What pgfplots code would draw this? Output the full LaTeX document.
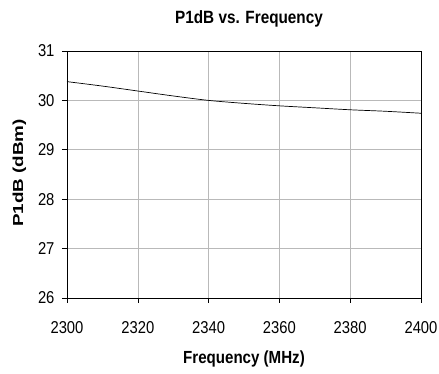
\documentclass[border=0pt]{standalone}
\usepackage{fontspec}
\setmainfont{Liberation Sans}
\usepackage{pgfplots}
\pgfplotsset{compat=1.18}
\newcommand{\tall}[1]{\scalebox{1}[1.16]{#1}}
\begin{document}
\begin{tikzpicture}
\begin{axis}[
  scale only axis,
  width=354pt, height=247pt,
  xmin=2300, xmax=2400, ymin=26, ymax=31,
  xtick={2300,2320,...,2400},
  ytick={26,27,...,31},
  grid=major,
  major grid style={gray!55, line width=0.6pt},
  axis line style={black, line width=0.8pt},
  tick align=outside,
  tick style={black, line width=0.6pt},
  major tick length=5pt,
  xtick pos=bottom, ytick pos=left,
  /pgf/number format/assume math mode=true,
  /pgf/number format/1000 sep={},
  xticklabel={\tall{\fontsize{14.8}{15}\selectfont\pgfmathprintnumber{\tick}}},
  yticklabel={\tall{\fontsize{14.8}{15}\selectfont\pgfmathprintnumber{\tick}}},
  xticklabel style={yshift=-15pt},
  yticklabel style={xshift=-4pt},
  clip=false,
]
\addplot[black, line width=0.7pt, smooth] coordinates {
(2300,30.38) (2310,30.29) (2320,30.19) (2330,30.09) (2340,30.00)
(2350,29.94) (2360,29.89) (2370,29.85) (2380,29.81) (2390,29.78) (2400,29.74)
};
\end{axis}
\node[font=\fontsize{15.3}{16}\selectfont\bfseries] at ([xshift=5pt,yshift=32pt]current axis.north) {\tall{P1dB vs. Frequency}};
\node[font=\fontsize{15.1}{16}\selectfont\bfseries] at ([yshift=-61pt]current axis.south) {\tall{Frequency (MHz)}};
\node[rotate=90, font=\fontsize{14.5}{15}\selectfont\bfseries] at ([xshift=-47.5pt,yshift=1.5pt]current axis.west) {\scalebox{1.3}[1]{P1dB (dBm)}};
\pgfresetboundingbox
\path[use as bounding box] ([xshift=-67pt,yshift=-76pt]current axis.south west) rectangle ++(439pt,374pt);
\end{tikzpicture}
\end{document}
